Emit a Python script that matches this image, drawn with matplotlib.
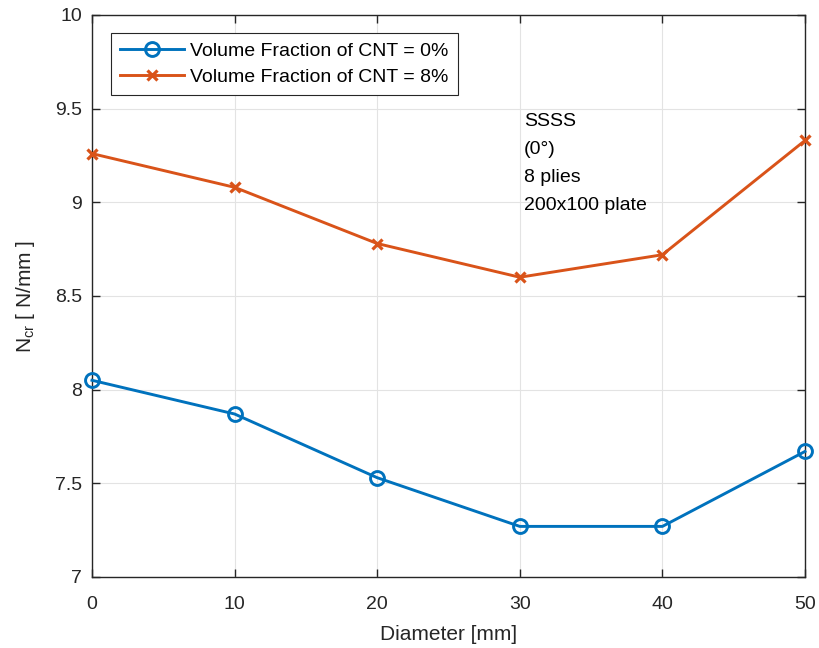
import numpy as np
import matplotlib.pyplot as plt

plt.rcParams['font.family'] = ['Liberation Sans', 'DejaVu Sans']

# Dados
diameter = [0, 10, 20, 30, 40, 50]
ncr_cnt0 = [8.05, 7.87, 7.53, 7.27, 7.27, 7.67]
ncr_cnt8 = [9.26, 9.08, 8.78, 8.60, 8.72, 9.33]
labels = ['Volume Fraction of CNT = 0%', 'Volume Fraction of CNT = 8%']
note = 'SSSS\n(0°)\n8 plies\n200x100 plate'

fig = plt.figure(figsize=(8.19, 6.48), dpi=100)
ax = fig.add_axes([0.1123, 0.1096, 0.8706, 0.8673])

ax.plot(diameter, ncr_cnt0, '-o', color='#0072BD', lw=2.1, ms=10,
        mfc='none', mew=2.1, label=labels[0], clip_on=False, zorder=3)
ax.plot(diameter, ncr_cnt8, '-x', color='#D95319', lw=2.1, ms=7,
        mew=2.3, label=labels[1], clip_on=False, zorder=3)

ax.set_xlim(0, 50)
ax.set_ylim(7, 10)
ax.set_xticks(np.arange(0, 51, 10))
ax.set_yticks(np.arange(7, 10.01, 0.5))
ax.set_yticklabels(['7', '7.5', '8', '8.5', '9', '9.5', '10'])
ax.grid(True, color='#e3e3e3', lw=0.8)
ax.set_axisbelow(True)
ax.tick_params(direction='in', length=6, width=1, labelsize=14,
               colors='#262626', top=True, right=True)
ax.tick_params(axis='x', pad=14)
ax.tick_params(axis='y', pad=7)
for s in ax.spines.values():
    s.set_color('#262626')
    s.set_linewidth(1)

ax.set_xlabel('Diameter [mm]', fontsize=15, color='#262626', labelpad=8)
ax.set_ylabel(r'N$_{\mathregular{cr}}$ [ N/mm ]', fontsize=15, color='#262626', labelpad=13)

ax.text(30.3, 9.475, note, fontsize=14, va='top', ha='left', linespacing=1.84)

leg = ax.legend(loc='upper left', bbox_to_anchor=(0.026, 0.968), fontsize=14,
                fancybox=False, edgecolor='#262626', framealpha=1,
                handlelength=3.3, handletextpad=0.3, borderpad=0.5,
                labelspacing=0.4, borderaxespad=0)
leg.get_frame().set_linewidth(0.8)

fig.savefig('out.png', dpi=100)
